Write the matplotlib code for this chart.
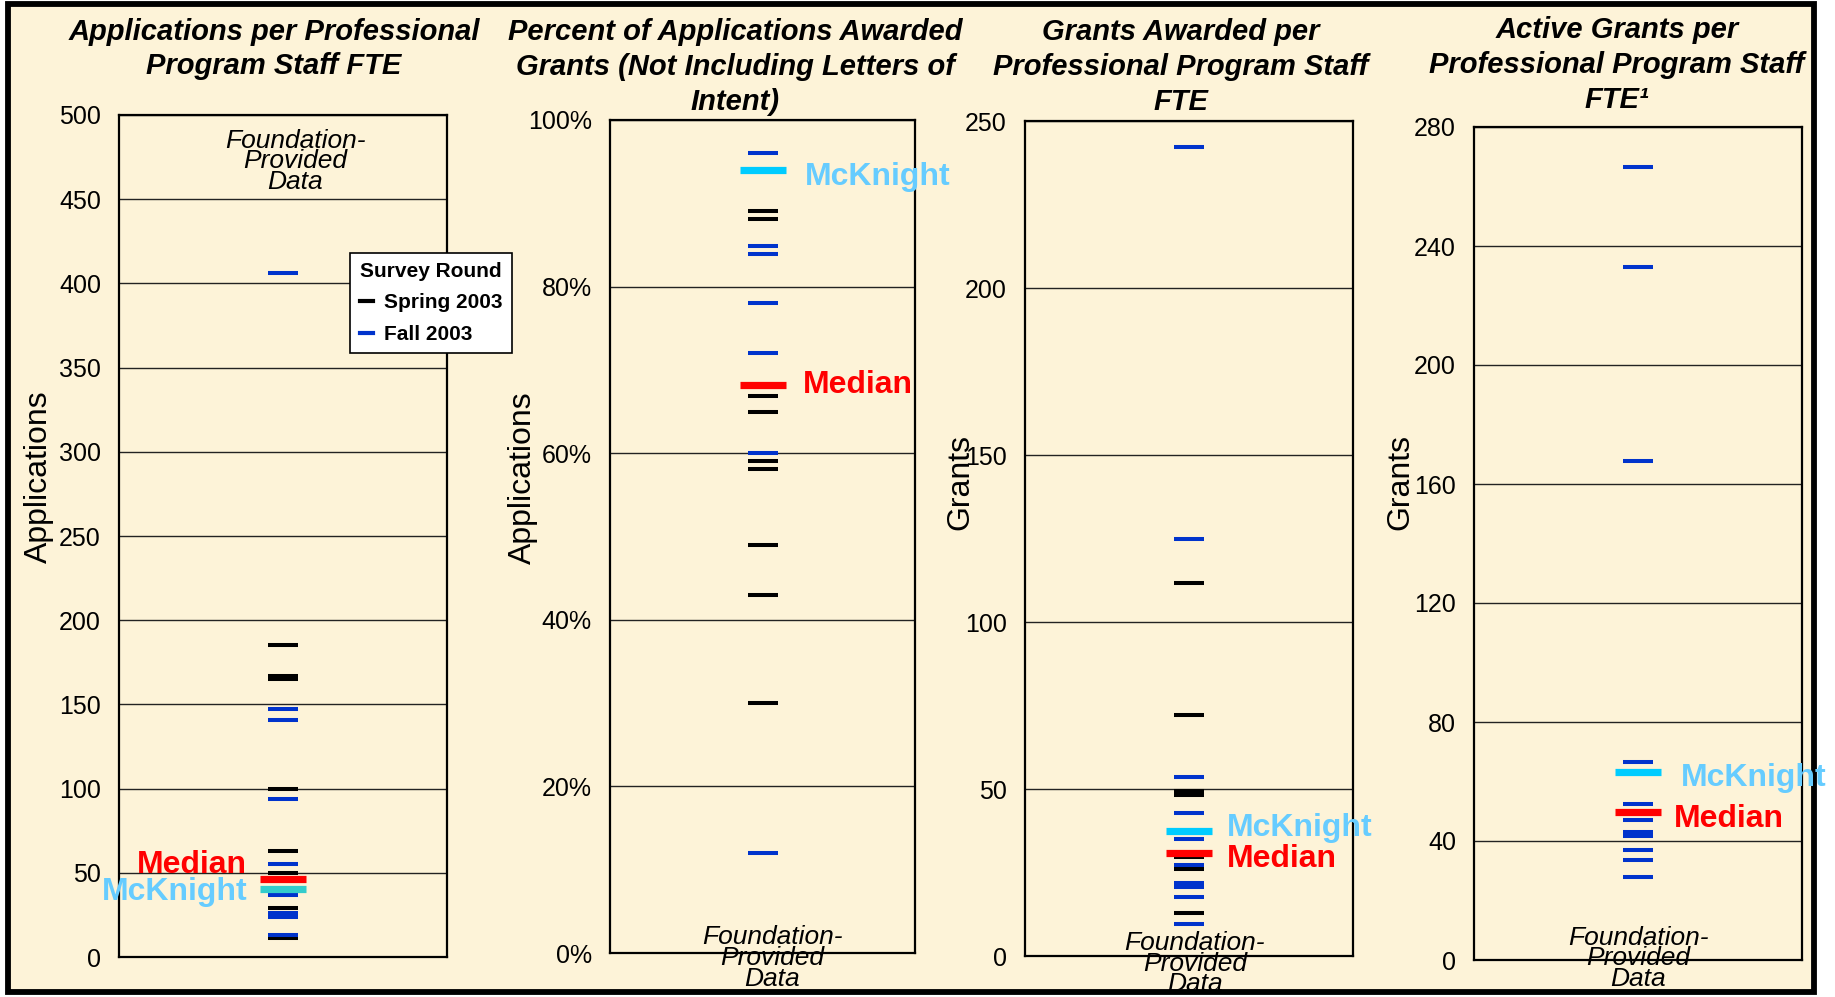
import matplotlib
matplotlib.use("Agg")
import matplotlib.pyplot as plt
from matplotlib.lines import Line2D
from matplotlib.patches import Rectangle
from matplotlib.ticker import FuncFormatter

plt.rcParams['font.family'] = ['Liberation Sans', 'DejaVu Sans']

# --- data ---
titles = [
    "Applications per Professional\nProgram Staff FTE",
    "Percent of Applications Awarded\nGrants (Not Including Letters of\nIntent)",
    "Grants Awarded per\nProfessional Program Staff\nFTE",
    "Active Grants per\nProfessional Program Staff\nFTE\u00b9",
]
ylabels = ["Applications", "Applications", "Grants", "Grants"]
ymax = [500, 100, 250, 280]
ystep = [50, 20, 50, 40]

spring_1 = [185, 167, 165, 100, 63, 50, 29, 11]
fall_1 = [406, 147, 141, 94, 55, 37, 26, 23.5, 13]
spring_2 = [89.1, 88.1, 66.9, 65.0, 59.1, 58.1, 49.0, 43.0, 30.0]
fall_2 = [96.0, 84.9, 83.9, 78.0, 72.0, 60.0, 12.0]
spring_3 = [111.7, 72.2, 49.3, 48.1, 29.5, 26.0, 13.0]
fall_3 = [242.1, 124.9, 53.6, 42.8, 35.0, 27.2, 21.9, 20.6, 17.8, 9.7]
spring_4 = []
fall_4 = [266.7, 233.1, 167.7, 66.7, 52.5, 47.1, 43.0, 41.7, 37.0, 33.6, 28.0]

medians = [46.5, 68.2, 30.9, 49.8]
mcknight = [40.6, 94.0, 37.4, 63.1]

springs = [spring_1, spring_2, spring_3, spring_4]
falls = [fall_1, fall_2, fall_3, fall_4]

# --- layout (pixels) ---
W, H = 1835, 997
boxes = [(119, 115, 447, 957), (610, 120, 915, 953), (1025, 121, 1353, 956), (1474, 127, 1802, 960)]
title_pos = [(274, 49), (735, 67), (1181, 67), (1617, 65)]
ylab_pos = [(-0.244, 0.570), (-0.285, 0.571), (-0.198, 0.568), (-0.223, 0.574)]
fpd_pos = [(0.537, 0.945), (0.531, -0.006), (0.518, -0.009), (0.5, 0.002)]
# label offsets (pixels) from the median / McKnight marks
med_off = [(-36, 14, 'right'), (40, 0, 'left'), (38, -6, 'left'), (36, -7, 'left')]
mck_off = [(-36, -3, 'right'), (42, -7, 'left'), (38, 3, 'left'), (43, -6, 'left')]
mck_mark_color = ['#33CCCC', '#00CCFF', '#00CCFF', '#00CCFF']

BG = '#FDF3D8'
BLUE = '#0033CC'

fig = plt.figure(figsize=(W / 100, H / 100), dpi=100, facecolor='white')
fig.patches.append(Rectangle((8 / W, 5 / H), 1806 / W, 988 / H, transform=fig.transFigure,
                             facecolor=BG, edgecolor='black', linewidth=4.2, zorder=-10))

for i in range(4):
    l, t, r, b = boxes[i]
    ax = fig.add_axes([l / W, 1 - b / H, (r - l) / W, (b - t) / H])
    ax.set_facecolor(BG)
    ax.set_xlim(0, 1)
    ax.set_ylim(0, ymax[i])
    ax.set_yticks(range(0, ymax[i] + 1, ystep[i]))
    ax.set_xticks([])
    ax.tick_params(axis='y', length=0, pad=13, labelsize=18)
    if i == 1:
        ax.yaxis.set_major_formatter(FuncFormatter(lambda v, _: f"{v:.0f}%"))
    ax.grid(axis='y', color='#222222', linewidth=1.0)
    ax.set_axisbelow(True)
    for sp in ax.spines.values():
        sp.set_linewidth(1.6)

    ax.plot([0.5] * len(springs[i]), springs[i], ls='none', marker='_', ms=21.6, mew=2.9, color='black')
    ax.plot([0.5] * len(falls[i]), falls[i], ls='none', marker='_', ms=21.6, mew=2.9, color=BLUE)
    ax.plot([0.5], [mcknight[i]], ls='none', marker='_', ms=33, mew=5.2, color=mck_mark_color[i])
    ax.plot([0.5], [medians[i]], ls='none', marker='_', ms=33, mew=5.2, color='#FF0000')

    dx, dy, ha = med_off[i]
    ax.annotate("Median", xy=(0.5, medians[i]), xytext=(dx, dy), textcoords='offset pixels',
                ha=ha, va='center', fontsize=23, fontweight='bold', color='#FF0000')
    dx, dy, ha = mck_off[i]
    ax.annotate("McKnight", xy=(0.5, mcknight[i]), xytext=(dx, dy), textcoords='offset pixels',
                ha=ha, va='center', fontsize=23, fontweight='bold', color='#66CCFF',
                annotation_clip=False)

    ax.text(ylab_pos[i][0], ylab_pos[i][1], ylabels[i], transform=ax.transAxes, rotation=90,
            ha='center', va='center', fontsize=23)
    ax.text(fpd_pos[i][0], fpd_pos[i][1], "Foundation-\nProvided\nData", transform=ax.transAxes,
            ha='center', va='center', fontsize=19, style='italic', linespacing=0.82)

    fig.text(title_pos[i][0] / W, 1 - title_pos[i][1] / H, titles[i], ha='center', va='center',
             fontsize=21, fontweight='bold', style='italic', linespacing=1.3)

    if i == 0:
        handles = [Line2D([], [], color='black', lw=3), Line2D([], [], color=BLUE, lw=3)]
        leg = ax.legend(handles, ["Spring 2003", "Fall 2003"], title="Survey Round",
                        loc='upper left', bbox_to_anchor=(0.674, 0.849), fancybox=False,
                        framealpha=1, edgecolor='black', facecolor='white', handlelength=0.65,
                        handletextpad=0.5, borderpad=0.45, labelspacing=0.6,
                        prop={'size': 15, 'weight': 'bold'})
        leg.get_title().set_fontsize(15)
        leg.get_title().set_fontweight('bold')
        leg.get_frame().set_linewidth(1.2)
        leg.set_zorder(10)

fig.savefig("out.png", dpi=100, facecolor=fig.get_facecolor())
